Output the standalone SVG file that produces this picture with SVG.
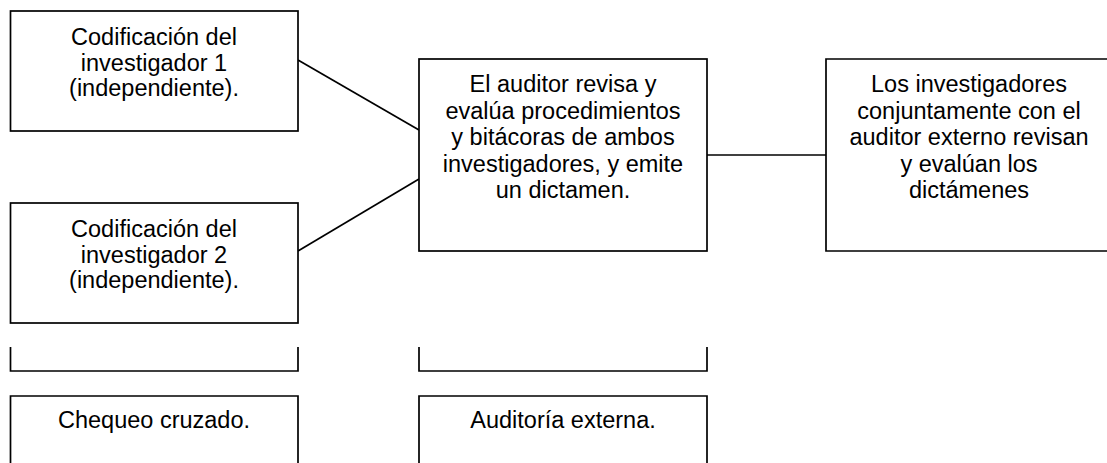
<svg xmlns="http://www.w3.org/2000/svg" width="1107" height="463" viewBox="0 0 1107 463">
<style>
.b{fill:#fff;stroke:#000;stroke-width:1.7}
.l{fill:none;stroke:#000;stroke-width:1.7}
text{font-family:"Liberation Sans",Arial,sans-serif;font-size:23.5px;fill:#000;text-anchor:middle}
</style>
<rect width="1107" height="463" fill="#fff"/>
<g id="connectors">
<line class="l" x1="298" y1="60" x2="419" y2="130"/>
<line class="l" x1="298" y1="251" x2="419" y2="179"/>
<line class="l" x1="707" y1="155" x2="826" y2="155"/>
</g>
<g id="n1">
<rect class="b" x="10.5" y="11" width="287.5" height="120"/>
<text x="154" y="45">Codificación del</text>
<text x="154" y="70.5">investigador 1</text>
<text x="154" y="96">(independiente).</text>
</g>
<g id="n2">
<rect class="b" x="10.5" y="203" width="287.5" height="120"/>
<text x="154" y="237">Codificación del</text>
<text x="154" y="262.5">investigador 2</text>
<text x="154" y="288">(independiente).</text>
</g>
<g id="n3">
<rect class="b" x="419" y="59" width="288" height="192"/>
<text x="563" y="92">El auditor revisa y</text>
<text x="563" y="118.5">evalúa procedimientos</text>
<text x="563" y="145">y bitácoras de ambos</text>
<text x="563" y="171.5">investigadores, y emite</text>
<text x="563" y="198">un dictamen.</text>
</g>
<g id="n4">
<path class="l" d="M1108,59 H826 V251 H1108"/>
<text x="969" y="92">Los investigadores</text>
<text x="969" y="118.5">conjuntamente con el</text>
<text x="969" y="145">auditor externo revisan</text>
<text x="969" y="171.5">y evalúan los</text>
<text x="969" y="198">dictámenes</text>
</g>
<g id="bracket1">
<path class="l" d="M10.5,347 V371 H298 V347"/>
</g>
<g id="bracket2">
<path class="l" d="M419,347 V371 H707 V347"/>
</g>
<g id="n5">
<path class="l" d="M10.5,464 V396 H298 V464"/>
<text x="154" y="428">Chequeo cruzado.</text>
</g>
<g id="n6">
<path class="l" d="M419,464 V396 H707 V464"/>
<text x="563" y="428">Auditoría externa.</text>
</g>
</svg>
